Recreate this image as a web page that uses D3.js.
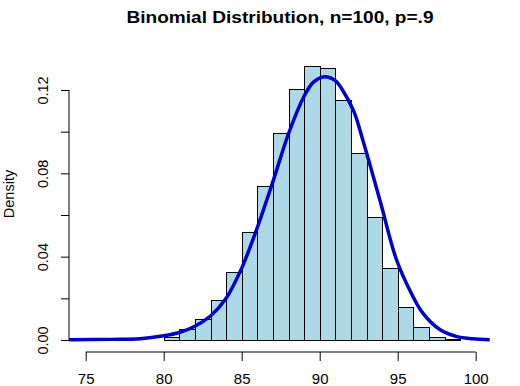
<!DOCTYPE html>
<html>
<head>
<meta charset="utf-8">
<script src="https://cdn.jsdelivr.net/npm/d3@7"></script>
<style>
  body { margin: 0; background: #fff; }
  text { font-family: "Liberation Sans", Arial, sans-serif; }
</style>
</head>
<body>
<script>
// histogram bins (left edge, width 1) and their densities
var binStarts = [80, 81, 82, 83, 84, 85, 86, 87, 88, 89, 90, 91, 92, 93, 94, 95, 96, 97, 98];
var binDensity = [0.0016, 0.0055, 0.0100, 0.0192, 0.0326, 0.0517, 0.0739, 0.0992, 0.1203, 0.1315,
                  0.1304, 0.1152, 0.0899, 0.0592, 0.0344, 0.0157, 0.0064, 0.0016, 0.0003];

// kernel density line
var curveX = [73.9, 76.6, 78.5, 80.0, 81.0, 82.0, 83.0, 84.0, 85.0, 86.0, 87.0, 88.0, 89.0, 89.6,
              90.3, 91.0, 91.5, 92.2, 92.8, 93.9, 94.9, 95.8, 96.6, 97.7, 98.8, 99.8, 100.9];
var curveY = [0.0001, 0.0003, 0.0006, 0.0020, 0.0036, 0.0066, 0.0115, 0.0200, 0.0345, 0.0540,
              0.0760, 0.0990, 0.1170, 0.1238, 0.1264, 0.1245, 0.1195, 0.1095, 0.0950, 0.0660,
              0.0390, 0.0235, 0.0130, 0.0050, 0.0016, 0.0006, 0.0001];

var xTicks = [75, 80, 85, 90, 95, 100];
var yTicks = [0, 0.02, 0.04, 0.06, 0.08, 0.10, 0.12];
var yLabels = ["0.00", "", "0.04", "", "0.08", "", "0.12"];

var w = 520, h = 386;

var svg = d3.select("body")
    .append("svg")
    .attr("width", w)
    .attr("height", h);

// scales
var x = d3.scaleLinear().domain([74, 101]).range([70.1, 491.3]);
var y = d3.scaleLinear().domain([0, 0.12]).range([340, 90]);

// clip for the curve (plot region)
svg.append("clipPath").attr("id", "plotclip")
    .append("rect")
    .attr("x", x(74) - 1).attr("y", 40)
    .attr("width", x(101) - x(74) + 2).attr("height", 315);

// bars
svg.selectAll(".bar")
    .data(binStarts)
    .enter()
    .append("rect")
    .attr("class", "bar")
    .attr("x", function(d){ return Math.round(x(d)) + 0.5; })
    .attr("y", function(d, i){ return Math.round(y(binDensity[i])) + 0.5; })
    .attr("width", function(d){ return Math.round(x(d + 1)) - Math.round(x(d)); })
    .attr("height", function(d, i){ return Math.round(y(0)) - Math.round(y(binDensity[i])); })
    .style("fill", "#ADD8E6")
    .style("stroke", "#000")
    .style("stroke-width", 1);

// density line
var line = d3.line()
    .x(function(d){ return x(d[0]); })
    .y(function(d){ return y(d[1]); })
    .curve(d3.curveCatmullRom.alpha(0.5));

svg.append("path")
    .datum(curveX.map(function(d, i){ return [d, curveY[i]]; }))
    .attr("clip-path", "url(#plotclip)")
    .attr("d", line)
    .style("fill", "none")
    .style("stroke", "#0000CD")
    .style("stroke-width", 3.5)
    .style("stroke-linejoin", "round");

// x axis
var xAxis = svg.append("g")
    .attr("transform", "translate(0,352)")
    .call(d3.axisBottom(x).tickValues(xTicks).tickSizeOuter(0).tickSize(9).tickPadding(12));
xAxis.select(".domain").attr("d", "M" + x(75) + ",0H" + x(100)).style("stroke", "#000");
xAxis.selectAll(".tick line").style("stroke", "#000");
xAxis.selectAll("text")
    .style("font-size", "15px")
    .style("fill", "#000");

// y axis
var yAxis = svg.append("g")
    .attr("transform", "translate(69,0)")
    .call(d3.axisLeft(y).tickValues(yTicks).tickSizeOuter(0).tickSize(8)
        .tickFormat(function(d, i){ return yLabels[i]; }));
yAxis.select(".domain").attr("d", "M0," + y(0) + "V" + y(0.12)).style("stroke", "#000");
yAxis.selectAll(".tick line").style("stroke", "#000");
yAxis.selectAll("text")
    .attr("x", 0).attr("y", 0).attr("dy", 0)
    .attr("transform", "translate(-21,0) rotate(-90)")
    .style("text-anchor", "middle")
    .style("font-size", "14.5px")
    .style("fill", "#000");

// labels
svg.append("text")
    .attr("x", 280)
    .attr("y", 23)
    .attr("text-anchor", "middle")
    .attr("textLength", 307)
    .attr("lengthAdjust", "spacingAndGlyphs")
    .style("font-size", "16.5px")
    .style("font-weight", "bold")
    .text("Binomial Distribution, n=100, p=.9");

svg.append("text")
    .attr("transform", "translate(14,194) rotate(-90)")
    .attr("text-anchor", "middle")
    .style("font-size", "14.5px")
    .text("Density");
</script>
</body>
</html>
